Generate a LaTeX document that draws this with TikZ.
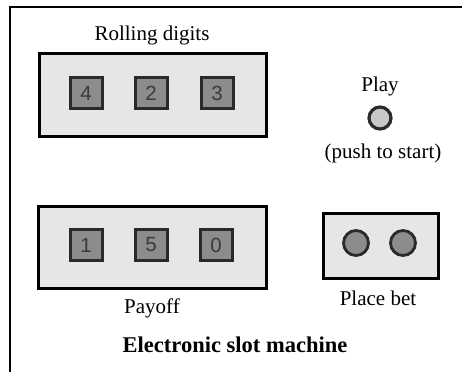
\documentclass[tikz,border=0pt]{standalone}
\usepackage{fontspec}
\setmainfont{Liberation Serif}
\newfontfamily\digitfont{Liberation Sans}
\definecolor{panelfill}{HTML}{E6E6E6}
\definecolor{keyfill}{HTML}{8C8C8C}
\definecolor{keyline}{HTML}{2A2A2A}
\definecolor{digitcol}{HTML}{3A3A3A}
\definecolor{playfill}{HTML}{C8C8C8}
\begin{document}
\begin{tikzpicture}[x=1pt,y=-1pt,
  panel/.style={draw=black,line width=2.6pt,fill=panelfill,inner sep=0pt,anchor=north west},
  digitkey/.style={draw=keyline,line width=3pt,fill=keyfill,minimum width=32pt,minimum height=31pt,inner sep=0pt,text=digitcol,font=\digitfont\fontsize{20.5}{20}\selectfont},
  betkey/.style={circle,draw=keyline,line width=2.8pt,fill=keyfill,minimum size=25pt,inner sep=0pt},
  playkey/.style={circle,draw=keyline,line width=3.2pt,fill=playfill,minimum size=22pt,inner sep=0pt},
  lbl/.style={font=\fontsize{21}{23}\selectfont,inner sep=0pt},
  title/.style={font=\bfseries\fontsize{22.5}{24}\selectfont,inner sep=0pt}]
\useasboundingbox (0,0) rectangle (462,372);
% frame
\coordinate (fbl) at (10,372);
\coordinate (ftl) at (10,7);
\coordinate (ftr) at (462,7);
\draw[line width=2.4pt] (fbl) -- (ftl) -- (ftr);
% rolling digits
\node[panel,minimum width=227pt,minimum height=83pt] (roll) at (38,52) {};
\node[lbl] (rolllbl) at (152,35) {Rolling digits};
\node[digitkey] (d4) at (86,93) {4};
\node[digitkey] (d2) at (151,93) {2};
\node[digitkey] (d3) at (217,93) {3};
% play
\node[lbl] (playlbl) at (380,86) {Play};
\node[playkey] (play) at (380,118) {};
\node[lbl] (pushlbl) at (383,153) {(push to start)};
% payoff
\node[panel,minimum width=228pt,minimum height=82pt] (pay) at (37,205) {};
\node[digitkey] (p1) at (86,245) {1};
\node[digitkey] (p5) at (151,245) {5};
\node[digitkey] (p0) at (216,245) {0};
\node[lbl] (paylbl) at (152,308) {Payoff};
% place bet
\node[panel,minimum width=115pt,minimum height=65pt] (bet) at (322,212) {};
\node[betkey] (b1) at (356,243) {};
\node[betkey] (b2) at (403,243) {};
\node[lbl] (betlbl) at (378,298) {Place bet};
% title
\node[title] (ttl) at (235,345) {Electronic slot machine};
\end{tikzpicture}
\end{document}
